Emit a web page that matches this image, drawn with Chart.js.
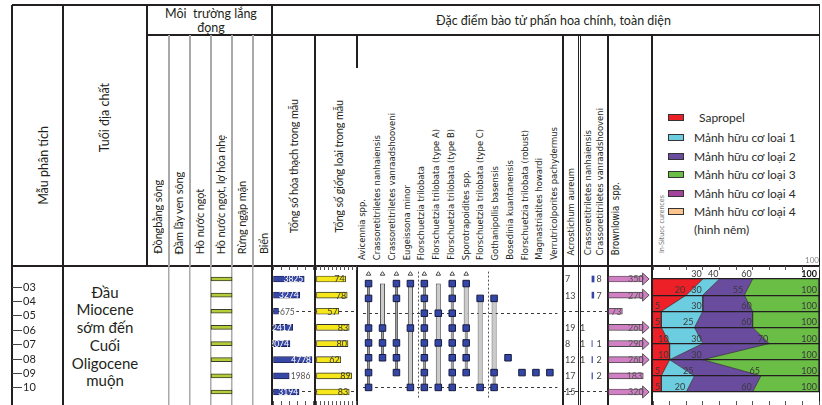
<!DOCTYPE html>
<html><head><meta charset="utf-8">
<script src="https://cdn.jsdelivr.net/npm/chart.js@4.4.0/dist/chart.umd.min.js"></script>
<style>
html,body{margin:0;padding:0;background:#fff;}
#root{position:relative;width:822px;height:405px;overflow:hidden;background:#fff;font-family:Lato,'Open Sans',sans-serif;color:#231f20;}
canvas{position:absolute;}
</style></head>
<body><div id="root"></div>
<script>
// ---------------- DATA ----------------
const SAMPLES=['03','04','05','06','07','08','09','10'];
const AGE_TEXT=['Đầu','Miocene','sớm đến','Cuối','Oligocene','muộn'];
const ENVIRONMENTS=['Đồngbằng sông','Đầm lầy ven sông','Hồ nước ngọt','Hồ nước ngọt, lợ hóa nhẹ','Rừng ngập mặn','Biển'];
const ENV_OF_SAMPLE=[3,3,3,3,3,3,3,3];
const TOTAL_FOSSILS=[3825,3274,675,2417,2074,4778,1986,3194];
const TOTAL_TAXA=[74,78,57,83,80,62,89,83];
const SPECIES=['Avicennia  spp.','Crassoretitriletes nanhaiensis','Crassoretitriletes vanraadshooveni','Eugeissona minor','Florschuetzia trilobata','Florschuetzia trilobata (type A)','Florschuetzia trilobata (type B)','Sporotrapoidites  spp.','Florschuetzia trilobata (type C)','Gothanipollis basensis','Bosedinia kuantanensis','Florschuetzia trilobata (robust)','Magnastriatites howardi','Verrutricolporites pachydermus'];
const SPECIES_SQUARES=[[0,1,3,4,5,6,7],[3,4,5],[0,1,4,5,6],[0,3,7],[0,1,2,3,4,5,6,7],[2,4,7],[0,1,2,3,4,5,6,7],[0,3,4,5,6],[1,7],[1,6,7],[5],[6],[6],[6]];
const SPECIES_RANGE=[null,[0,3],null,[0,7],null,[0,7],null,[0,3],[1,7],[1,6],null,null,null,null];
const SPECIES_LINK=[[0,7],[3,5],[0,6],null,[0,7],null,[0,7],[3,6],null,[6,7],null,null,null,null];
const SPECIES_FLAGGED=[0,1,2,3,4,5,6,7];
const GROUP_BREAKS=[3.55,8.6];
const COUNT_TAXA=['Acrostichum aureum','Crassoretitriletes nanhaiensis','Crassoretitriletes vanraadshooveni'];
const ACROSTICHUM=[7,13,null,19,8,12,17,15];
const CRASSO_NANHAI=[null,null,null,1,1,1,null,null];
const CRASSO_VANRAAD=[8,7,null,null,1,2,2,null];
const BROWNLOWIA=[350,270,73,260,290,260,183,320];
const ZONE_ROWS=[2,7];
const OM_LEGEND=['Sapropel','Mảnh hữu cơ loai 1','Mảnh hữu cơ loại 2','Mảnh hữu cơ loại 3','Mảnh hữu cơ loại  4','Mảnh hữu cơ loại  4<br>(hình nêm)'];
const OM_COLORS=['#ed1f27','#6dcde0','#6a4c9f','#6abd45','#a3449c','#fbc38e'];
const OM_SAPROPEL=[30,20,5,5,10,10,5,5];
const OM_TYPE1=[40,30,30,25,30,10,25,20];
const OM_TYPE2=[60,55,60,60,70,30,65,60];
const OM_TYPE3=[100,100,100,100,100,100,100,100];

// ---------------- LAYOUT ----------------
const root=document.getElementById('root');
const INK='#231f20';
const ROW0=279, STEP=16.14;
const NARROW='"Liberation Sans Narrow","Arial Narrow","DejaVu Sans Condensed",Lato,sans-serif';
function el(css,html){const d=document.createElement('div');d.style.cssText='position:absolute;'+css;if(html!=null)d.innerHTML=html;root.appendChild(d);return d;}
function vl(x,y1,y2,w=1,c=INK){el(`left:${x-w/2}px;top:${y1}px;width:${w}px;height:${y2-y1}px;background:${c}`);}
function hl(x1,x2,y,w=1,c=INK){el(`left:${x1}px;top:${y-w/2}px;width:${x2-x1}px;height:${w}px;background:${c}`);}
function vtext(t,cx,bottom,size,fam,color,ls){el(`left:${cx-20}px;width:40px;top:${bottom-400}px;height:400px;display:flex;justify-content:center;align-items:flex-end;font-size:${size}px;font-family:${fam||'Lato'};color:${color||INK};letter-spacing:${ls||0}px`,`<span style="writing-mode:vertical-rl;transform:rotate(180deg);white-space:nowrap;line-height:1">${t}</span>`);}

// header frame
hl(12,820,5,1.2); hl(147,820,35,1.2); hl(12,820,266,1.4);
vl(12,5,405,1.2); vl(63,5,405,1.4); vl(147,5,266,2.2);
[169,190,211,232,253].forEach(x=>vl(x,35,266,1.5,'#a9a9a9'));
vl(272,5,405,1.3); vl(315,35,405,1.3); vl(357,35,68,1.3); vl(357,266,405,1.3);
vl(563,35,405,1.2); vl(578,35,405,1); vl(580.5,35,405,1); vl(608,35,405,1.3); vl(652,35,405,1.4); vl(819.5,5,405,1.3);

// header texts
vtext('Mẫu phân tích',44,205,12.5);
vtext('Tuổi địa chất',105,152,12.5);
el(`left:147px;width:128px;top:7px;text-align:center;font-size:12.5px;line-height:13.5px`,'Môi&nbsp; trường lắng<br>đọng');
el(`left:436px;top:13px;font-size:12.5px;white-space:nowrap`,'Đặc điểm bào tử phấn hoa chính, toàn diện');
ENVIRONMENTS.forEach((t,k)=>vtext(t,157.5+21.1*k,254,11,'Lato',INK,-0.15));
vtext('Tổng số hóa thạch trong mẫu',293,233,11,'Lato',INK,-0.2);
vtext('Tổng số giống loài trong mẫu',338,233,11,'Lato',INK,-0.2);
SPECIES.forEach((t,k)=>vtext(t,362+14.75*k,260,9.4,NARROW));
vtext(COUNT_TAXA[0],571,255,9.4,NARROW);
vtext(COUNT_TAXA[1],588,255,9.4,NARROW);
vtext(COUNT_TAXA[2],600,255,9.4,NARROW);
vtext('Brownlowia&nbsp; spp.',615.5,255,9.6,NARROW);
vtext('In-Situoc curences',662,253,7,NARROW,'#777');
// legend
OM_LEGEND.forEach((t,i)=>{
  const y=[117,136.5,155.5,174,192.5,211][i];
  el(`left:668px;top:${y-3}px;width:14px;height:5px;background:${OM_COLORS[i]};border:1px solid #333`);
  el(`left:${i===0?699:694}px;top:${y-8}px;font-size:12px;line-height:18px;white-space:nowrap;color:#2b2b2b`,t);
});
// age text
el(`left:63px;width:84px;top:283.5px;text-align:center;font-size:15px;line-height:17.8px;color:#231f20`,AGE_TEXT.join('<br>'));

// ---------------- CHARTS ----------------
function mk(left,top,w,h,cfg){
  const c=document.createElement('canvas');c.width=w;c.height=h;
  c.style.left=left+'px';c.style.top=top+'px';c.style.width=w+'px';c.style.height=h+'px';
  root.appendChild(c);
  const o=cfg.options||{};
  o.responsive=false;o.animation=false;o.events=[];
  o.plugins=Object.assign({legend:{display:false},tooltip:{enabled:false}},o.plugins||{});
  o.layout=o.layout||{padding:0};
  cfg.options=o;
  return new Chart(c,cfg);
}
function yAxis(areaTop,areaBottom,gridRows,grid,dash){
  const min=-(ROW0-areaTop)/STEP, max=(areaBottom-ROW0)/STEP;
  const show=!!(gridRows&&gridRows.length);
  return {type:'linear',reverse:true,min,max,display:show,offset:false,
    afterBuildTicks:s=>{s.ticks=(gridRows||[]).map(v=>({value:v}));},
    afterFit:s=>{s.width=0;},
    ticks:{display:false},
    border:{display:false,dash:dash||[3,3]},
    grid:Object.assign({drawTicks:false,offset:false,color:'#3a3a3a',lineWidth:1},grid||{})};
}
function ruler(pos,min,max,step,h){
  return {type:'linear',position:pos,min,max,offset:false,
    afterBuildTicks:s=>{const t=[];for(let v=0;v<=max+1e-9;v+=step){if(v>=min)t.push({value:v});}s.ticks=t;},
    afterFit:s=>{s.height=h||4;},
    ticks:{display:false},border:{display:false},
    grid:{drawOnChartArea:false,drawTicks:true,offset:false,tickLength:4,tickColor:'#555',tickWidth:1}};
}

// sample label column
{
  const min=-(ROW0-266)/STEP, max=(405-ROW0)/STEP;
  mk(0,268,63,139,{type:'bar',data:{datasets:[{data:[]}]},options:{scales:{
    x:{type:'linear',display:false},
    y:{type:'linear',position:'right',reverse:true,min,max,offset:false,
      afterBuildTicks:s=>{s.ticks=SAMPLES.map((_,i)=>({value:i}));},
      afterFit:s=>{s.width=51;},
      ticks:{callback:v=>SAMPLES[v],font:{size:11,family:'Lato'},color:INK,padding:1},
      grid:{drawOnChartArea:false,offset:false,tickLength:10,tickColor:'#444',tickWidth:1},
      border:{display:false}}}}});
}

// environment column
mk(147,266,125,139,{type:'bar',data:{datasets:[{
  data:ENV_OF_SAMPLE.map((e,i)=>({x:[e,e+1],y:i})),
  backgroundColor:'#b3cd3b',borderColor:'#3d3d2a',borderWidth:1,borderSkipped:false,barThickness:4}]},
  options:{indexAxis:'y',scales:{
    x:{type:'linear',min:-0.05,max:5.902,offset:false,
      afterBuildTicks:s=>{s.ticks=[1,2,3,4,5].map(v=>({value:v}));},
      afterFit:s=>{s.height=0;},ticks:{display:false},border:{display:false},
      grid:{drawTicks:false,offset:false,color:'#a9a9a9',lineWidth:1.5}},
    y:yAxis(266,405)}}});

// total fossils
{
  const k=0.00816, min=-1/k, max=min+43/k;
  mk(272,266,43,139,{type:'bar',data:{datasets:[{
    data:TOTAL_FOSSILS.map((v,i)=>({x:v,y:i})),
    backgroundColor:'#3747a6',borderColor:'#1c1f4a',borderWidth:0.8,borderSkipped:false,barThickness:6}]},
    options:{indexAxis:'y',scales:{x:ruler('top',min,max,1000),x2:ruler('bottom',min,max,1000),y:yAxis(270,401,ZONE_ROWS)}},
    plugins:[{id:'lbl',afterDatasetsDraw(ch){
      const ctx=ch.ctx;ctx.save();ctx.font='8.5px Lato';ctx.textBaseline='middle';
      ch.getDatasetMeta(0).data.forEach((b,i)=>{
        const v=TOTAL_FOSSILS[i], t=String(v);
        if(v<2000){const w=ctx.measureText(t).width;ctx.fillStyle='#fff';ctx.fillRect(b.x+1,b.y-4,w+2,8);
          ctx.fillStyle='#555';ctx.textAlign='left';ctx.fillText(t,b.x+1.5,b.y+0.5);}
        else{ctx.fillStyle='#fff';ctx.textAlign='right';ctx.fillText(t,b.x-1,b.y+0.5);}
      });ctx.restore();}}]});
}

// total taxa
{
  const k=0.4, min=-2.5, max=min+42/k;
  mk(315,266,42,139,{type:'bar',data:{datasets:[{
    data:TOTAL_TAXA.map((v,i)=>({x:v,y:i})),
    backgroundColor:'#f6e71b',borderColor:'#333',borderWidth:0.9,borderSkipped:false,barThickness:6}]},
    options:{indexAxis:'y',scales:{x:ruler('top',min,max,10),x2:ruler('bottom',min,max,10),y:yAxis(270,401,ZONE_ROWS)}},
    plugins:[{id:'lbl',afterDatasetsDraw(ch){
      const ctx=ch.ctx;ctx.save();ctx.font='9px Lato';ctx.textBaseline='middle';ctx.textAlign='right';ctx.fillStyle='#3a3a2a';
      ch.getDatasetMeta(0).data.forEach((b,i)=>ctx.fillText(String(TOTAL_TAXA[i]),b.x-1,b.y+0.5));ctx.restore();}}]});
}

// species occurrence chart
{
  const kx=14.75, min=(357-363.3)/kx, max=min+206/kx;
  const squares=[];SPECIES_SQUARES.forEach((rows,k)=>rows.forEach(r=>squares.push({x:k,y:r})));
  const ranges=SPECIES_RANGE.map((r,k)=>r&&{x:k,y:r}).filter(Boolean);
  const links=SPECIES_LINK.map((r,k)=>r&&{x:k,y:r}).filter(Boolean);
  const flags=SPECIES_FLAGGED.map(k=>({x:k,y:-0.65}));
  mk(357,266,206,139,{type:'bar',data:{datasets:[
    {type:'scatter',data:squares,pointStyle:'rect',pointRadius:4.6,backgroundColor:'#3447a8',borderColor:'#161a3e',borderWidth:1},
    {type:'scatter',data:flags,pointStyle:'triangle',pointRadius:2.6,backgroundColor:'#fff',borderColor:'#333',borderWidth:0.9},
    {type:'bar',data:links,backgroundColor:'#a0a0a0',borderColor:'#2a2a2a',borderWidth:0.8,grouped:false,maxBarThickness:3,borderSkipped:false},
    {type:'bar',data:ranges,backgroundColor:'#cbcbcb',borderColor:'#3a3a3a',borderWidth:0.9,grouped:false,maxBarThickness:5,borderSkipped:false}
  ]},options:{scales:{
    x:{type:'linear',min,max,offset:false,
      afterBuildTicks:s=>{s.ticks=GROUP_BREAKS.map(v=>({value:v}));},
      afterFit:s=>{s.height=0;},ticks:{display:false},border:{display:false,dash:[2,2]},
      grid:{drawTicks:false,offset:false,color:'#555',lineWidth:1}},
    y:yAxis(266,405,ZONE_ROWS)}}});
}

// count columns
{
  const cols=[ACROSTICHUM,CRASSO_NANHAI,CRASSO_VANRAAD];
  const ds=cols.map((arr,j)=>({type:'scatter',data:arr.map((v,i)=>v==null?null:{x:j,y:i,v}).filter(Boolean),pointRadius:0}));
  ds.push({type:'bar',data:CRASSO_VANRAAD.map((v,i)=>v==null?null:{x:[1.93,1.93+v/56],y:i}).filter(Boolean),
    backgroundColor:'#3447a8',borderColor:'#3447a8',borderWidth:0,barThickness:6});
  mk(563,266,45,139,{type:'bar',data:{datasets:ds},options:{indexAxis:'y',scales:{
    x:{type:'linear',min:0,max:3,display:false},
    y:yAxis(266,405,ZONE_ROWS)}},
    plugins:[{id:'lbl',afterDatasetsDraw(ch){
      const ctx=ch.ctx;ctx.save();ctx.font='9px Lato';ctx.textBaseline='middle';ctx.textAlign='left';ctx.fillStyle='#444';
      for(let j=0;j<3;j++){ch.getDatasetMeta(j).data.forEach((p,i)=>{
        const d=ch.data.datasets[j].data[i];ctx.fillText(String(d.v),p.x+(j===2?3.5:2),p.y+0.5);});}
      ctx.restore();}}]});
}

// Brownlowia
{
  const min=-2.6, max=190;
  mk(608,266,44,139,{type:'bar',data:{datasets:[{
    data:BROWNLOWIA.map((v,i)=>({x:v,y:i})),
    backgroundColor:'#d180c4',borderColor:'#444',borderWidth:0.9,borderSkipped:false,barThickness:6}]},
    options:{indexAxis:'y',layout:{padding:{right:7.4}},scales:{x:{type:'linear',min,max,display:false},y:yAxis(266,405)}},
    plugins:[{id:'lbl',afterDatasetsDraw(ch){
      const ctx=ch.ctx, xs=ch.scales.x, a=ch.chartArea;ctx.save();
      ch.getDatasetMeta(0).data.forEach((b,i)=>{
        const v=BROWNLOWIA[i];let end=b.x;
        if(v>xs.max){end=a.right;
          ctx.beginPath();ctx.moveTo(end-2,b.y-6);ctx.lineTo(end+4.5,b.y);ctx.lineTo(end-2,b.y+6);ctx.closePath();
          ctx.fillStyle='#d180c4';ctx.fill();ctx.strokeStyle='#444';ctx.lineWidth=0.9;ctx.stroke();}
        ctx.font='9px Lato';ctx.textBaseline='middle';ctx.textAlign='right';ctx.fillStyle='#555';
        ctx.fillText(String(v),Math.min(end,a.right)-1,b.y+0.5);
      });ctx.restore();}}]});
}

// organic matter stacked area
{
  const bounds=[OM_SAPROPEL,OM_TYPE1,OM_TYPE2,OM_TYPE3];
  const ds=bounds.map((arr,j)=>({type:'line',data:arr.map((v,i)=>({x:v,y:i})),
    fill:j===0?'origin':'-1',backgroundColor:OM_COLORS[j],borderColor:'#333',borderWidth:0.8,pointRadius:0,tension:0}));
  const top=ruler('top',0,100,10,16);
  top.ticks={display:true,callback:v=>v===100?'100':'',font:{size:8,family:'Lato'},color:'#888',align:'end',padding:1,maxRotation:0,autoSkip:false};
  mk(652,254,168,151,{type:'line',data:{datasets:ds},options:{indexAxis:'y',layout:{padding:{right:1}},scales:{
    x:top,x2:ruler('bottom',0,100,10,4),
    y:yAxis(270,401,[0,1,2,3,4,5,6,7],{color:INK,lineWidth:1.2,z:1},[])}},
    plugins:[{id:'lbl',afterDraw(ch){
      const ctx=ch.ctx, xs=ch.scales.x, ys=ch.scales.y;ctx.save();ctx.textBaseline='alphabetic';ctx.textAlign='right';
      SAMPLES.forEach((_,i)=>{
        const seen=new Set();const y=ys.getPixelForValue(i)-2;
        bounds.forEach(arr=>{const v=arr[i];if(seen.has(v))return;seen.add(v);
          const bold=(i===0&&v===100);
          ctx.font=(bold?'bold ':'')+'9px Lato';ctx.fillStyle=bold?'#111':'#3a3a3a';
          ctx.fillText(String(v),Math.min(xs.getPixelForValue(v),ch.chartArea.right-1)-1,y);});
      });ctx.restore();}}]});
}
</script></body></html>
